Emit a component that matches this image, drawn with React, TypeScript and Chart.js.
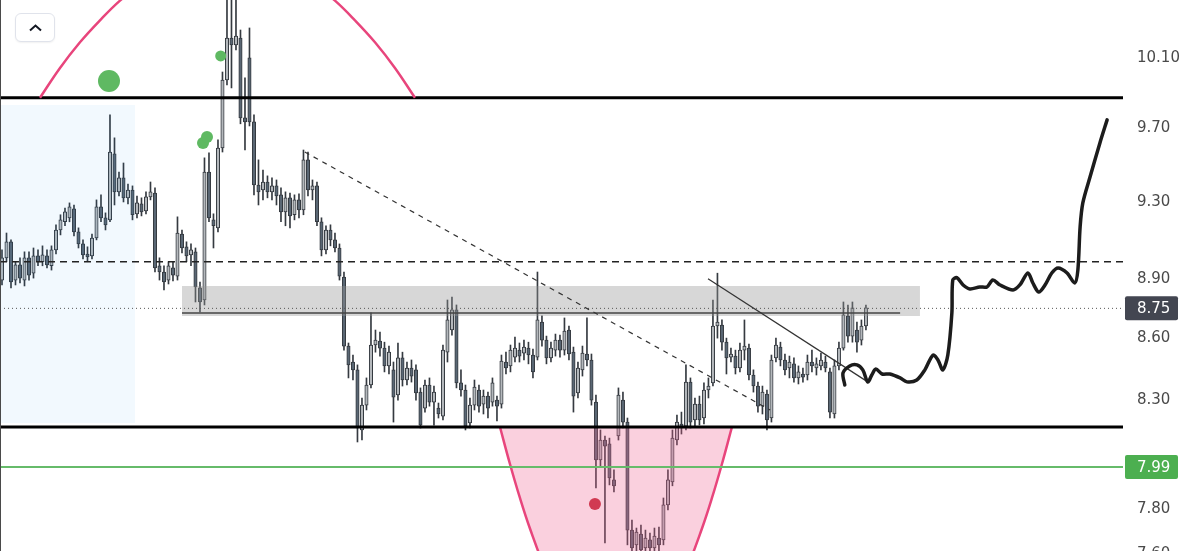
import React, { useEffect, useRef } from "react";
import { Chart, registerables } from "chart.js";

Chart.register(...registerables);

// ---------- axis ----------
const Y_MIN = 7.575;
const Y_MAX = 10.441;
const X_MIN = -0.444;
const X_MAX = 249.13;
const tickValues = [7.6, 7.8, 8.3, 8.6, 8.9, 9.3, 9.7, 10.1];

// ---------- candles [open, high, low, close] ----------
const candles: number[][] = [
  [8.893, 9.048, 8.868, 9.007], [9.007, 9.136, 8.987, 9.09], [9.09, 9.1, 8.853, 8.883], [8.893, 8.987, 8.868, 8.971],
  [8.971, 9.007, 8.878, 8.903], [8.893, 9.038, 8.863, 9.007], [9.007, 9.038, 8.893, 8.918], [8.928, 9.058, 8.903, 9.017],
  [9.017, 9.048, 8.966, 8.987], [8.987, 9.069, 8.966, 9.022], [9.017, 9.048, 8.955, 8.971], [8.966, 9.069, 8.944, 9.048],
  [9.048, 9.179, 9.027, 9.152], [9.152, 9.232, 9.126, 9.205], [9.195, 9.268, 9.174, 9.247], [9.216, 9.295, 9.195, 9.274],
  [9.263, 9.284, 9.121, 9.142], [9.142, 9.163, 9.058, 9.079], [9.079, 9.1, 9.002, 9.022], [9.027, 9.064, 8.987, 9.012],
  [9.017, 9.131, 9.002, 9.11], [9.11, 9.311, 9.1, 9.274], [9.274, 9.338, 9.195, 9.216], [9.216, 9.242, 9.152, 9.179],
  [9.205, 9.776, 9.195, 9.57], [9.56, 9.648, 9.284, 9.353], [9.353, 9.461, 9.332, 9.429], [9.429, 9.51, 9.3, 9.322],
  [9.322, 9.396, 9.29, 9.364], [9.364, 9.386, 9.205, 9.232], [9.237, 9.332, 9.216, 9.295], [9.29, 9.322, 9.226, 9.247],
  [9.253, 9.354, 9.237, 9.327], [9.327, 9.407, 9.311, 9.354], [9.348, 9.375, 8.934, 8.955], [8.966, 9.007, 8.893, 8.934],
  [8.934, 8.966, 8.843, 8.883], [8.893, 8.987, 8.873, 8.966], [8.955, 8.987, 8.888, 8.918], [8.913, 9.221, 8.893, 9.136],
  [9.131, 9.152, 9.032, 9.058], [9.064, 9.09, 8.987, 9.017], [9.022, 9.079, 8.966, 9.048], [9.038, 9.058, 8.782, 8.858],
  [8.853, 8.883, 8.732, 8.782], [8.792, 9.538, 8.767, 9.461], [9.461, 9.565, 9.195, 9.216], [9.205, 9.237, 9.058, 9.174],
  [9.163, 9.637, 9.142, 9.592], [9.592, 10.019, 9.57, 9.973], [9.973, 10.5, 9.945, 10.216], [10.216, 10.5, 9.928, 10.175],
  [10.175, 10.5, 10.146, 10.228], [10.216, 10.263, 9.726, 9.759], [9.759, 9.985, 9.581, 9.737], [10.1, 10.275, 9.714, 9.737],
  [9.737, 9.776, 9.338, 9.391], [9.391, 9.527, 9.284, 9.354], [9.364, 9.472, 9.311, 9.407], [9.407, 9.44, 9.322, 9.354],
  [9.354, 9.429, 9.311, 9.386], [9.386, 9.418, 9.284, 9.332], [9.338, 9.375, 9.195, 9.247], [9.247, 9.354, 9.174, 9.322],
  [9.322, 9.348, 9.163, 9.226], [9.232, 9.338, 9.205, 9.311], [9.311, 9.343, 9.216, 9.258], [9.258, 9.581, 9.232, 9.527],
  [9.527, 9.57, 9.332, 9.364], [9.364, 9.418, 9.311, 9.386], [9.386, 9.407, 9.174, 9.195], [9.195, 9.216, 9.017, 9.048],
  [9.048, 9.174, 9.027, 9.152], [9.152, 9.179, 9.069, 9.1], [9.1, 9.136, 9.038, 9.058], [9.058, 9.079, 8.893, 8.913],
  [8.908, 8.934, 8.543, 8.563], [8.563, 8.578, 8.408, 8.471], [8.485, 8.519, 8.398, 8.447], [8.447, 8.471, 8.105, 8.17],
  [8.161, 8.312, 8.114, 8.278], [8.278, 8.408, 8.255, 8.374], [8.374, 8.727, 8.36, 8.568], [8.568, 8.642, 8.533, 8.592],
  [8.587, 8.632, 8.514, 8.553], [8.553, 8.582, 8.437, 8.466], [8.466, 8.563, 8.427, 8.533], [8.447, 8.485, 8.198, 8.316],
  [8.326, 8.578, 8.302, 8.505], [8.505, 8.533, 8.369, 8.398], [8.398, 8.485, 8.374, 8.456], [8.456, 8.495, 8.388, 8.417],
  [8.447, 8.471, 8.302, 8.336], [8.34, 8.36, 8.17, 8.184], [8.264, 8.398, 8.245, 8.374], [8.374, 8.408, 8.273, 8.292],
  [8.292, 8.369, 8.184, 8.34], [8.264, 8.288, 8.217, 8.236], [8.226, 8.568, 8.208, 8.543], [8.533, 8.792, 8.485, 8.692],
  [8.642, 8.807, 8.617, 8.742], [8.742, 8.767, 8.36, 8.384], [8.384, 8.447, 8.321, 8.35], [8.35, 8.374, 8.161, 8.179],
  [8.194, 8.312, 8.17, 8.278], [8.278, 8.398, 8.255, 8.364], [8.35, 8.374, 8.245, 8.273], [8.283, 8.35, 8.236, 8.321],
  [8.321, 8.34, 8.217, 8.264], [8.292, 8.408, 8.273, 8.384], [8.302, 8.321, 8.203, 8.273], [8.283, 8.519, 8.264, 8.49],
  [8.485, 8.533, 8.427, 8.456], [8.466, 8.568, 8.437, 8.543], [8.509, 8.607, 8.485, 8.553], [8.543, 8.578, 8.485, 8.514],
  [8.528, 8.592, 8.495, 8.558], [8.553, 8.582, 8.476, 8.519], [8.519, 8.548, 8.408, 8.437], [8.509, 8.934, 8.495, 8.692],
  [8.682, 8.712, 8.563, 8.592], [8.592, 8.612, 8.476, 8.505], [8.505, 8.582, 8.485, 8.553], [8.543, 8.622, 8.514, 8.592],
  [8.592, 8.617, 8.509, 8.543], [8.543, 8.702, 8.519, 8.637], [8.642, 8.662, 8.495, 8.524], [8.533, 8.558, 8.245, 8.321],
  [8.336, 8.485, 8.312, 8.456], [8.447, 8.563, 8.417, 8.528], [8.524, 8.702, 8.466, 8.495], [8.495, 8.524, 8.278, 8.302],
  [8.292, 8.326, 7.894, 8.022], [8.022, 8.161, 7.995, 8.114], [8.114, 8.133, 7.65, 8.086], [8.096, 8.123, 7.908, 7.94],
  [7.931, 7.977, 7.876, 7.904], [8.133, 8.36, 8.114, 8.326], [8.302, 8.34, 8.17, 8.198], [8.198, 8.217, 7.641, 7.706],
  [7.706, 7.75, 7.575, 7.628], [7.641, 7.715, 7.553, 7.697], [7.688, 7.728, 7.553, 7.619], [7.628, 7.706, 7.553, 7.671],
  [7.663, 7.693, 7.553, 7.628], [7.628, 7.715, 7.553, 7.68], [7.671, 7.719, 7.553, 7.641], [7.663, 7.849, 7.641, 7.818],
  [7.818, 7.977, 7.795, 7.931], [7.922, 8.161, 7.904, 8.123], [8.114, 8.231, 8.091, 8.198], [8.189, 8.245, 8.142, 8.17],
  [8.179, 8.471, 8.161, 8.388], [8.388, 8.408, 8.17, 8.198], [8.208, 8.312, 8.179, 8.283], [8.283, 8.321, 8.184, 8.208],
  [8.217, 8.384, 8.189, 8.35], [8.35, 8.408, 8.312, 8.369], [8.384, 8.792, 8.369, 8.662], [8.662, 8.928, 8.602, 8.682],
  [8.667, 8.692, 8.543, 8.582], [8.582, 8.602, 8.427, 8.505], [8.509, 8.553, 8.485, 8.524], [8.514, 8.543, 8.427, 8.456],
  [8.456, 8.578, 8.437, 8.543], [8.543, 8.692, 8.495, 8.563], [8.553, 8.573, 8.398, 8.422], [8.422, 8.447, 8.34, 8.369],
  [8.369, 8.388, 8.245, 8.273], [8.273, 8.369, 8.236, 8.34], [8.331, 8.35, 8.161, 8.208], [8.217, 8.519, 8.198, 8.495],
  [8.505, 8.602, 8.485, 8.568], [8.558, 8.582, 8.466, 8.495], [8.495, 8.524, 8.422, 8.447], [8.456, 8.514, 8.408, 8.485],
  [8.476, 8.505, 8.388, 8.408], [8.408, 8.466, 8.379, 8.437], [8.427, 8.456, 8.388, 8.412], [8.422, 8.519, 8.398, 8.485],
  [8.485, 8.543, 8.437, 8.466], [8.456, 8.505, 8.422, 8.476], [8.466, 8.528, 8.447, 8.495], [8.485, 8.514, 8.437, 8.456],
  [8.437, 8.456, 8.217, 8.245], [8.236, 8.495, 8.217, 8.466], [8.466, 8.582, 8.447, 8.553], [8.553, 8.782, 8.543, 8.717],
  [8.712, 8.767, 8.582, 8.612], [8.612, 8.782, 8.582, 8.752], [8.642, 8.682, 8.533, 8.582], [8.592, 8.692, 8.568, 8.662],
  [8.662, 8.767, 8.642, 8.752],
];

// ---------- levels ----------
const topLevel = 9.872;
const bottomLevel = 8.175;
const dashedLevel = 8.987;
const lastPrice = 8.75;
const greenLevel = 7.99;

// ---------- drawings ----------
const blueRangeX = [X_MIN, 29.56];
const blueRangeY = [9.832, 8.194];
const zoneX = [40, 204];
const zoneY = [8.863, 8.712];
const zoneLineX = [40, 199.6];
const zoneLineY = 8.727;
const dashedTrendX = [67.3, 170.7];
const dashedTrendY = [9.57, 8.255];
const solidTrendX = [156.9, 192.4];
const solidTrendY = [8.9, 8.389];
const arcX = [8.44, 12.89, 17.33, 21.78, 26.22, 30.67, 35.11, 50.11, 65.11, 69.56, 74, 78.44, 82.89, 87.33, 91.78];
const arcY = [9.872, 10.042, 10.191, 10.32, 10.437, 10.531, 10.608, 10.72, 10.608, 10.531, 10.437, 10.32, 10.191, 10.042, 9.872];
const cupX = [110.67, 112.89, 115.11, 117.33, 120.67, 125.11, 136.44, 147.78, 152.22, 155.56, 157.78, 160, 162.22];
const cupY = [8.175, 8.0035, 7.849, 7.713, 7.54, 7.365, 7.182, 7.365, 7.54, 7.713, 7.849, 8.0035, 8.175];
const greenDotX = [23.78, 48.6, 44.67, 45.56];
const greenDotY = [9.968, 10.112, 9.62, 9.653];
const greenDotR = [11, 5.5, 6, 6];
const redDotX = [131.78];
const redDotY = [7.822];
const pathX = [187.3, 186.9, 188.4, 190.0, 191.3, 192.4, 193.3, 194.2, 195.6, 197.3, 199.6, 201.1, 203.3, 205.1, 206.9, 208.0, 209.1, 210.2, 211.1, 211.3, 212.2, 213.6, 215.1, 217.3, 218.9, 220.2, 221.8, 224.7, 226.2, 228.0, 229.1, 230.4, 231.8, 233.3, 234.7, 236.7, 238.4, 239.1, 239.6, 240.2, 241.8, 244.0, 245.6];
const pathY = [8.374, 8.432, 8.466, 8.471, 8.447, 8.389, 8.422, 8.451, 8.427, 8.427, 8.408, 8.389, 8.398, 8.447, 8.519, 8.495, 8.447, 8.519, 8.727, 8.893, 8.905, 8.868, 8.848, 8.858, 8.858, 8.893, 8.868, 8.843, 8.868, 8.929, 8.878, 8.832, 8.868, 8.929, 8.955, 8.929, 8.878, 8.944, 9.168, 9.295, 9.434, 9.62, 9.748];

const badges = [
  { value: lastPrice, label: "8.75", color: "#434651" },
  { value: greenLevel, label: "7.99", color: "#4caf50" },
];

const UP_FILL = "#b4b8bc";
const DOWN_FILL = "#5a6774";
const CANDLE_LINE = "#353a40";
const PINK = "#e8457c";

const zip = (xs: number[], ys: number[]) => xs.map((x, i) => ({ x, y: ys[i] }));

function lineDs(data: any[], color: string, width: number, order: number, extra: any = {}) {
  return {
    type: "line",
    data,
    borderColor: color,
    borderWidth: width,
    pointRadius: 0,
    tension: 0,
    fill: false,
    order,
    ...extra,
  };
}

function hLine(value: number, color: string, width: number, order: number, dash: number[] = [], x0 = X_MIN, x1 = X_MAX) {
  return lineDs([{ x: x0, y: value }, { x: x1, y: value }], color, width, order, { borderDash: dash });
}

const badgePlugin = {
  id: "badges",
  afterDraw(chart: any) {
    const { ctx } = chart;
    const y = chart.scales.y;
    const right = chart.chartArea.right;
    ctx.save();
    badges.forEach((b) => {
      const py = y.getPixelForValue(b.value);
      ctx.fillStyle = b.color;
      ctx.beginPath();
      (ctx as any).roundRect(right + 2, py - 12, 53, 24, 2);
      ctx.fill();
      ctx.fillStyle = "#ffffff";
      ctx.font = "15px 'DejaVu Sans'";
      ctx.textAlign = "left";
      ctx.textBaseline = "middle";
      ctx.fillText(b.label, right + 14, py + 1);
    });
    ctx.restore();
  },
};

export default function App() {
  const ref = useRef<HTMLCanvasElement>(null);

  useEffect(() => {
    if (!ref.current) return;
    const wickData = candles.map((c, i) => ({ x: i, y: [c[2], c[1]] }));
    const bodyData = candles.map((c, i) => ({ x: i, y: [c[0], c[3]] }));
    const bodyColors = candles.map((c) => (c[3] >= c[0] ? UP_FILL : DOWN_FILL));

    const datasets: any[] = [
      {
        type: "bar",
        data: wickData,
        backgroundColor: CANDLE_LINE,
        borderWidth: 0,
        barThickness: 1,
        grouped: false,
        order: 100,
      },
      {
        type: "bar",
        data: bodyData,
        backgroundColor: bodyColors,
        borderColor: CANDLE_LINE,
        borderWidth: 1,
        borderSkipped: false,
        barThickness: 3.4,
        grouped: false,
        order: 99,
      },
      lineDs(zip(blueRangeX, [blueRangeY[0], blueRangeY[0]]), "rgba(0,0,0,0)", 0, 90, {
        fill: { value: blueRangeY[1] },
        backgroundColor: "rgba(33,150,243,0.06)",
      }),
      lineDs(zip(zoneX, [zoneY[0], zoneY[0]]), "rgba(0,0,0,0)", 0, 89, {
        fill: { value: zoneY[1] },
        backgroundColor: "rgba(150,150,150,0.38)",
      }),
      lineDs(zip(cupX, cupY), PINK, 2.5, 88, {
        fill: { value: bottomLevel },
        backgroundColor: "rgba(240,98,146,0.3)",
        tension: 0.4,
      }),
      hLine(dashedLevel, "#222222", 1.5, 80, [7, 5]),
      hLine(lastPrice, "#555555", 1, 80, [1, 3]),
      hLine(greenLevel, "#66bb6a", 2, 80),
      hLine(zoneLineY, "#444444", 1.5, 80, [], zoneLineX[0], zoneLineX[1]),
      hLine(topLevel, "#000000", 3, 79),
      hLine(bottomLevel, "#000000", 3, 79),
      lineDs(zip(dashedTrendX, dashedTrendY), "#333333", 1.2, 78, { borderDash: [5, 5] }),
      lineDs(zip(solidTrendX, solidTrendY), "#333333", 1.2, 78),
      lineDs(zip(arcX, arcY), PINK, 2.5, 70, { tension: 0.4 }),
      {
        type: "line",
        data: zip(greenDotX, greenDotY),
        showLine: false,
        pointRadius: greenDotR,
        pointBackgroundColor: "#5fb962",
        pointBorderWidth: 0,
        order: 60,
      },
      {
        type: "line",
        data: zip(redDotX, redDotY),
        showLine: false,
        pointRadius: 6,
        pointBackgroundColor: "#d13a52",
        pointBorderWidth: 0,
        order: 60,
      },
      lineDs(zip(pathX, pathY), "#1c1c1c", 3.5, 50, {
        tension: 0.3,
        borderCapStyle: "round",
        borderJoinStyle: "round",
      }),
    ];

    const chart = new Chart(ref.current, {
      type: "bar",
      data: { datasets },
      options: {
        responsive: false,
        animation: false,
        devicePixelRatio: 1,
        events: [],
        layout: { padding: 0, autoPadding: false },
        plugins: { legend: { display: false }, tooltip: { enabled: false } },
        scales: {
          x: {
            type: "linear",
            min: X_MIN,
            max: X_MAX,
            offset: false,
            display: false,
          },
          y: {
            type: "logarithmic",
            position: "right",
            min: Y_MIN,
            max: Y_MAX,
            bounds: "data",
            grid: { display: false, drawTicks: false },
            border: { display: false },
            afterBuildTicks: (scale: any) => {
              scale.ticks = tickValues.map((v) => ({ value: v }));
            },
            afterFit: (scale: any) => {
              scale.width = 77;
              scale.paddingTop = 0;
              scale.paddingBottom = 0;
            },
            ticks: {
              autoSkip: false,
              padding: 14,
              color: "#4a4a4a",
              font: { family: "'DejaVu Sans'", size: 15 },
              callback: (v: any) => Number(v).toFixed(2),
            },
          },
        },
      } as any,
      plugins: [badgePlugin],
    } as any);

    return () => chart.destroy();
  }, []);

  return (
    <div
      style={{
        position: "fixed",
        left: 0,
        top: 0,
        width: 1200,
        height: 551,
        overflow: "hidden",
        background: "#ffffff",
      }}
    >
      <canvas ref={ref} width={1200} height={560} style={{ display: "block", width: 1200, height: 560 }} />
      <div style={{ position: "absolute", left: 0, top: 0, width: 1, height: 551, background: "#4a4a4a" }} />
      <div
        style={{
          position: "absolute",
          left: 15,
          top: 13,
          width: 38,
          height: 27,
          border: "1px solid #e0e3eb",
          borderRadius: 6,
          background: "#ffffff",
          boxShadow: "0 1px 2px rgba(0,0,0,0.06)",
        }}
      >
        <svg width="38" height="27" style={{ display: "block" }}>
          <polyline points="14,16.5 19.5,11.5 25,16.5" fill="none" stroke="#131722" strokeWidth="2" />
        </svg>
      </div>
    </div>
  );
}
